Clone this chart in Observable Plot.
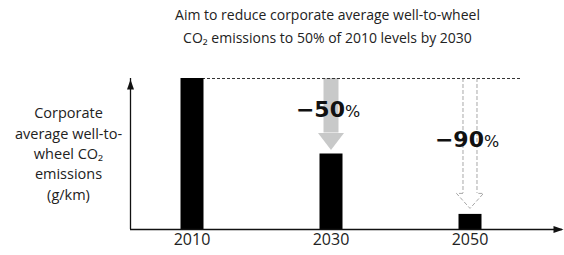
<!DOCTYPE html>
<html>
<head>
<meta charset="utf-8">
<script src="https://cdn.jsdelivr.net/npm/d3@7"></script>
<script src="https://cdn.jsdelivr.net/npm/@observablehq/plot@0.6"></script>
<style>
  html, body { margin: 0; padding: 0; background: #fff; }
  #title {
    width: 564px; box-sizing: border-box; height: 60px;
    padding: 3px 0 0 91px; text-align: center;
    font-family: "Open Sans", sans-serif; font-size: 14px; line-height: 23px; color: #222;
  }
  #chart svg { display: block; }
</style>
</head>
<body>
<div id="title"></div>
<div id="chart"></div>
<script>
// ---- data ----
const titleLines = ["Aim to reduce corporate average well-to-wheel", "CO₂ emissions to 50% of 2010 levels by 2030"];
const yLabelLines = ["Corporate", "average well-to-", "wheel CO₂", "emissions", "(g/km)"];
const years = [2010, 2030, 2050];
const emissions = [100, 50, 10]; // relative to 2010 level
const tickLabels = ["2010", "2030", "2050"];
const reductionYears = [2030, 2050];
const reductionTargets = [50, 10];
const reductionLabels = ["−50", "−90"];

// ---- build ----
document.getElementById("title").innerHTML = titleLines.join("<br>");

const bars = years.map((year, i) => ({year, value: emissions[i]}));
const base = emissions[0];
const reductions = reductionYears.map((year, i) => ({
  year, from: base, to: reductionTargets[i], label: reductionLabels[i],
  mid: (base + reductionTargets[i]) / 2
}));
const solid = reductions.filter(d => d.year === 2030);
const dashed = reductions.filter(d => d.year === 2050);

const xDomain = [2001.15, 2063.31];
const font = "Open Sans";
const gray = "#c8c9c9";
const dashGray = "#a8a8a8";

const headSolid = {draw(c) { c.moveTo(-13, -17); c.lineTo(13, -17); c.lineTo(0, 0); c.closePath(); }};
const headDashed = {draw(c) { c.moveTo(-7, -15); c.lineTo(-13.5, -15); c.lineTo(0, 0); c.lineTo(13.5, -15); c.lineTo(7, -15); }};
const headRight = {draw(c) { c.moveTo(0, 0); c.lineTo(-10, -3.5); c.lineTo(-10, 3.5); c.closePath(); }};
const headUp = {draw(c) { c.moveTo(0, 0); c.lineTo(-3.5, 10); c.lineTo(3.5, 10); c.closePath(); }};

const plot = Plot.plot({
  width: 564,
  height: 195,
  marginLeft: 130,
  marginRight: 2,
  marginTop: 18,
  marginBottom: 26,
  style: {fontFamily: font, background: "white"},
  x: {domain: xDomain, axis: null},
  y: {domain: [0, 100], axis: null},
  marks: [
    // solid gray arrow (2030)
    Plot.ruleX(solid, {x: "year", y1: "from", y2: "to", insetBottom: 21, stroke: gray, strokeWidth: 15}),
    Plot.dot(solid, {x: "year", y: "to", symbol: headSolid, fill: gray, stroke: "none", dy: -4}),
    // dashed outline arrow (2050)
    Plot.ruleX(dashed, {x: "year", y1: "from", y2: "to", insetBottom: 21, dx: -7, stroke: dashGray, strokeWidth: 1, strokeDasharray: "4,2"}),
    Plot.ruleX(dashed, {x: "year", y1: "from", y2: "to", insetBottom: 21, dx: 7, stroke: dashGray, strokeWidth: 1, strokeDasharray: "4,2"}),
    Plot.dot(dashed, {x: "year", y: "to", symbol: headDashed, fill: "none", stroke: dashGray, strokeWidth: 1, strokeDasharray: "4,2", dy: -6}),
    // reference dashed line at 2010 level
    Plot.ruleY([base], {insetLeft: 62, insetRight: 42, stroke: "#333", strokeWidth: 1, strokeDasharray: "3,2"}),
    // bars
    Plot.ruleX(bars, {x: "year", y1: 0, y2: "value", stroke: "black", strokeWidth: 23}),
    // axes
    Plot.ruleY([0], {stroke: "#111", strokeWidth: 1.3}),
    Plot.ruleX([xDomain[0]], {stroke: "#111", strokeWidth: 1.3}),
    Plot.dot([0], {frameAnchor: "bottom-right", symbol: headRight, fill: "#111", stroke: "none", dx: 1}),
    Plot.dot([0], {frameAnchor: "top-left", symbol: headUp, fill: "#111", stroke: "none", dy: 1}),
    // tick labels
    Plot.text(years, {x: d => d, text: (d, i) => tickLabels[i], frameAnchor: "bottom", dy: 15, fontSize: 16, fill: "#222", fontFamily: font}),
    // y label
    Plot.text([yLabelLines.join("\n")], {frameAnchor: "left", dx: -62, dy: -1.5, textAnchor: "middle", lineHeight: 1.4, fontSize: 14.5, fill: "#222", fontFamily: font}),
    // reduction labels
    Plot.text(reductions, {x: "year", y: "mid", text: "label", textAnchor: "end", dx: 14, dy: -6, fontSize: 22, fontWeight: "bold", fill: "#111", fontFamily: "DejaVu Sans"}),
    Plot.text(reductions, {x: "year", y: "mid", text: () => "%", textAnchor: "start", dx: 14, dy: -4.4, fontSize: 16, fill: "#111", fontFamily: "DejaVu Sans"})
  ]
});
document.getElementById("chart").appendChild(plot);
</script>
</body>
</html>
